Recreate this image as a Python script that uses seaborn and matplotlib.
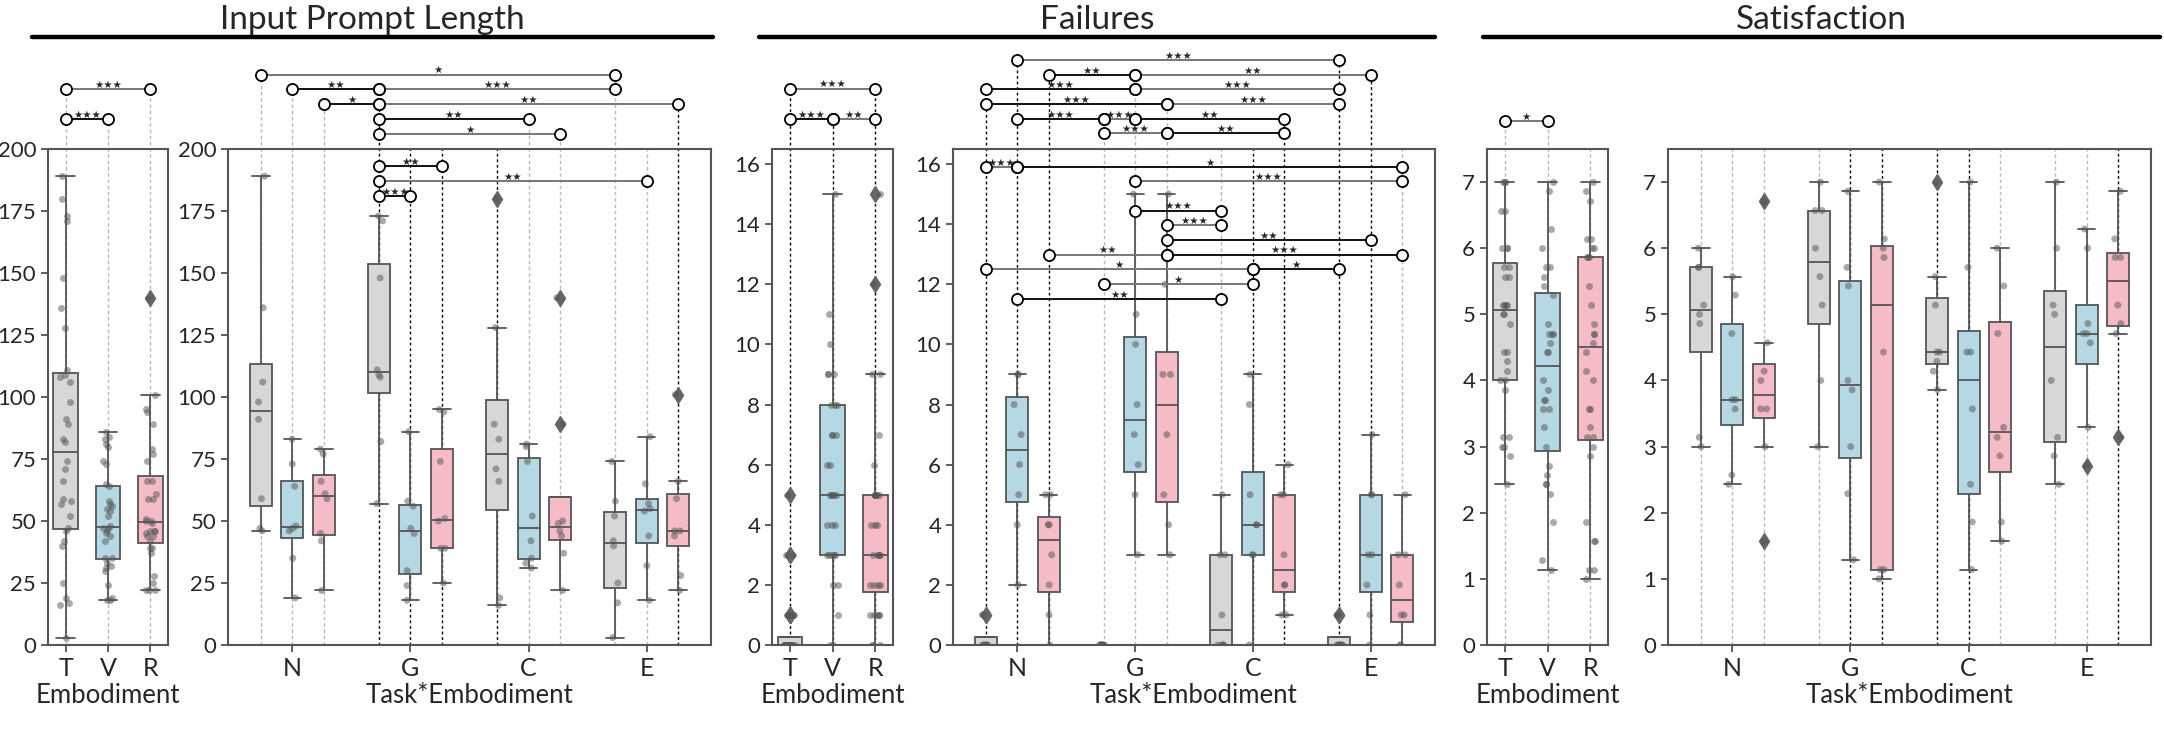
import numpy as np
import pandas as pd
import matplotlib
matplotlib.use("Agg")
import matplotlib.pyplot as plt
from matplotlib.lines import Line2D
import seaborn as sns

np.random.seed(3)

tasks = ["N", "G", "C", "E"]
embodiments = ["T", "V", "R"]

# ---- Input prompt length: lists for T, V, R within each task ----
input_N = [[46, 47, 59, 91, 98, 106, 136, 189], [19, 35, 46, 47, 48, 64, 73, 83], [22, 42, 45, 59, 61, 66, 77, 79]]
input_G = [[57, 82, 108, 109, 111, 148, 171, 173], [18, 24, 30, 45, 47, 56, 58, 86], [25, 39, 39, 50, 51, 74, 94, 95]]
input_C = [[16, 19, 66, 71, 83, 89, 128, 180], [31, 33, 35, 42, 52, 74, 80, 81], [22, 37, 44, 46, 49, 50, 89, 140]]
input_E = [[3, 17, 25, 40, 42, 52, 58, 74], [18, 32, 44, 54, 55, 57, 65, 84], [22, 28, 44, 46, 46, 59, 66, 101]]

# ---- Failures ----
fail_N = [[0, 0, 0, 0, 0, 0, 1, 1], [2, 4, 5, 6, 7, 8, 9, 9], [0, 1, 2, 3, 4, 4, 5, 5]]
fail_G = [[0, 0, 0, 0, 0, 0, 0, 0], [3, 5, 6, 7, 8, 10, 11, 15], [3, 4, 5, 7, 9, 9, 12, 15]]
fail_C = [[0, 0, 0, 0, 1, 3, 3, 5], [0, 3, 3, 4, 4, 5, 8, 9], [1, 1, 2, 2, 3, 5, 5, 6]]
fail_E = [[0, 0, 0, 0, 0, 0, 1, 1], [0, 1, 2, 3, 3, 5, 5, 7], [0, 0, 1, 1, 2, 3, 3, 5]]

# ---- Satisfaction ----
sat_N = [[3.0, 3.14, 4.86, 5.0, 5.14, 5.71, 5.71, 6.0], [2.43, 2.57, 3.57, 3.71, 3.71, 4.71, 5.29, 5.57], [1.57, 3.0, 3.57, 3.57, 4.0, 4.14, 4.57, 6.71]]
sat_G = [[3.0, 4.0, 5.14, 5.57, 6.0, 6.57, 6.57, 7.0], [1.29, 2.29, 3.0, 3.86, 4.0, 5.43, 5.71, 6.86], [1.0, 1.14, 1.14, 4.43, 5.86, 6.0, 6.14, 7.0]]
sat_C = [[3.86, 4.14, 4.29, 4.43, 4.43, 5.14, 5.57, 7.0], [1.14, 1.86, 2.43, 3.57, 4.43, 4.43, 5.71, 7.0], [1.57, 1.86, 2.86, 3.14, 3.29, 4.71, 5.43, 6.0]]
sat_E = [[2.43, 2.86, 3.14, 4.0, 5.0, 5.14, 6.0, 7.0], [2.71, 3.29, 4.57, 4.71, 4.71, 4.86, 6.0, 6.29], [3.14, 4.71, 4.86, 5.14, 5.86, 5.86, 6.14, 6.86]]

# ---- significance brackets: (from, to, height, label) ----
input_emb_sig = [("T", "R", 224, "***"), ("T", "V", 212, "***")]
input_task_sig = [("N-T", "E-T", 230, "*"), ("N-V", "G-T", 224, "**"), ("G-T", "E-T", 224, "***"),
                  ("N-R", "G-T", 218, "*"), ("G-T", "E-R", 218, "**"), ("G-T", "C-V", 212, "**"),
                  ("G-T", "C-R", 206, "*"), ("G-T", "G-R", 193, "**"), ("G-T", "E-V", 187, "**"),
                  ("G-T", "G-V", 181, "***")]
fail_emb_sig = [("T", "R", 18.5, "***"), ("T", "V", 17.5, "***"), ("V", "R", 17.5, "**")]
fail_task_sig = [("N-V", "E-T", 19.45, "***"),
                 ("N-R", "G-V", 18.96, "**"), ("G-V", "E-V", 18.96, "**"),
                 ("N-T", "G-V", 18.49, "***"), ("G-V", "E-T", 18.49, "***"),
                 ("N-T", "G-R", 18.0, "***"), ("G-R", "E-T", 18.0, "***"),
                 ("N-V", "G-T", 17.5, "***"), ("G-T", "G-V", 17.5, "***"), ("G-V", "C-R", 17.5, "**"),
                 ("G-T", "G-R", 17.03, "***"), ("G-R", "C-R", 17.03, "**"),
                 ("N-T", "N-V", 15.9, "***"), ("N-V", "E-R", 15.9, "*"),
                 ("G-V", "E-R", 15.42, "***"),
                 ("G-V", "C-T", 14.45, "***"),
                 ("G-R", "C-T", 13.96, "***"),
                 ("G-R", "E-V", 13.47, "**"),
                 ("N-R", "G-R", 12.98, "**"), ("G-R", "E-R", 12.98, "***"),
                 ("N-T", "C-V", 12.5, "*"), ("C-V", "E-T", 12.5, "*"),
                 ("G-T", "C-V", 12.0, "*"),
                 ("N-V", "C-T", 11.5, "**")]
sat_emb_sig = [("T", "V", 7.92, "*")]
sat_task_sig = []

# positions drawn with a dark guide line
input_emb_dark = []
input_task_dark = ["G-T", "G-V", "G-R", "C-T", "E-R"]
fail_emb_dark = ["T", "V", "R"]
fail_task_dark = ["N-T", "N-V", "N-R", "C-V", "C-R", "E-T", "E-V"]
sat_emb_dark = []
sat_task_dark = ["G-V", "G-R", "C-T", "C-V", "E-R"]

rows = []
for metric, per_task in [("input", dict(zip(tasks, [input_N, input_G, input_C, input_E]))),
                         ("fail", dict(zip(tasks, [fail_N, fail_G, fail_C, fail_E]))),
                         ("sat", dict(zip(tasks, [sat_N, sat_G, sat_C, sat_E])))]:
    for t, lists in per_task.items():
        for e, vals in zip(embodiments, lists):
            for v in vals:
                rows.append((metric, t, e, v))
df = pd.DataFrame(rows, columns=["metric", "task", "emb", "value"])

sns.set_theme(style="ticks")
plt.rcParams["font.family"] = ["Lato", "DejaVu Sans"]

W, H = 2164, 730
fig = plt.figure(figsize=(W / 100, H / 100), dpi=100)
AX_TOP, AX_BOT = 149, 645


def add_ax(x0, x1):
    return fig.add_axes([x0 / W, 1 - AX_BOT / H, (x1 - x0) / W, (AX_BOT - AX_TOP) / H])


box_colors = {"T": "#d6d7d9", "V": "#b4d8e4", "R": "#f5bcc7"}
HUE_STEP = 0.8 / 3


def xpos(key):
    if "-" in key:
        t, e = key.split("-")
        return tasks.index(t) + (embodiments.index(e) - 1) * HUE_STEP
    return embodiments.index(key)


def widen_caps(ax, box_w):
    for ln in ax.lines:
        xd = np.asarray(ln.get_xdata(), dtype=float)
        yd = np.asarray(ln.get_ydata(), dtype=float)
        if len(xd) == 2 and yd[0] == yd[1]:
            span = abs(xd[1] - xd[0])
            if 0 < span < 0.7 * box_w:
                c = xd.mean()
                half = 0.39 * box_w
                ln.set_xdata([c - half, c + half])


def draw_panel(ax, sub, kind, ylim, yticks, brackets, dark_keys, xlabel):
    flier = dict(marker="d", markerfacecolor="#666666", markeredgecolor="#666666")
    if kind == "emb":
        sns.boxplot(data=sub, x="emb", y="value", hue="emb", order=embodiments, hue_order=embodiments,
                    palette=box_colors, saturation=1, width=0.57, linewidth=1.3, linecolor="#555555",
                    fliersize=8, flierprops=flier, legend=False, ax=ax)
        widen_caps(ax, 0.57)
        sns.stripplot(data=sub, x="emb", y="value", order=embodiments, color="#555555", alpha=0.5,
                      size=5, jitter=0.13, ax=ax, zorder=3)
        keys = embodiments
    else:
        sns.boxplot(data=sub, x="task", y="value", hue="emb", order=tasks, hue_order=embodiments,
                    palette=box_colors, saturation=1, width=0.8, gap=0.3, linewidth=1.3,
                    linecolor="#555555", fliersize=8, flierprops=flier, legend=False, ax=ax)
        widen_caps(ax, HUE_STEP * 0.7)
        sns.stripplot(data=sub, x="task", y="value", hue="emb", order=tasks, hue_order=embodiments,
                      dodge=True, palette=["#555555"] * 3, alpha=0.5, size=5, jitter=0.1,
                      legend=False, ax=ax, zorder=3)
        keys = [f"{t}-{e}" for t in tasks for e in embodiments]

    ax.set_ylim(*ylim)
    ax.set_yticks(yticks)
    top = ylim[1]
    for k in keys:
        x = xpos(k)
        ends = [b[2] for b in brackets if k in (b[0], b[1])]
        y1 = max([top] + ends)
        if k in dark_keys:
            ax.plot([x, x], [0, y1], color="black", lw=1.0, ls=(0, (2, 2)), clip_on=False, zorder=0.5)
        else:
            ax.plot([x, x], [0, y1], color="#b8b8b8", lw=1.0, ls=(0, (2.5, 2)), clip_on=False, zorder=0.5)
    for i, (a, b, y, lab) in enumerate(brackets):
        xa, xb = xpos(a), xpos(b)
        col = "#777777" if i % 2 == 0 else "#111111"
        ax.plot([xa, xb], [y, y], color=col, lw=1.4, clip_on=False, zorder=4)
        ax.plot([xa, xb], [y, y], ls="none", marker="o", ms=8, mfc="white", mec="black", mew=1.3,
                clip_on=False, zorder=5)
        ax.annotate(lab.replace("*", "\u2605"), ((xa + xb) / 2, y), xytext=(0, 3.2),
                    textcoords="offset points", ha="center", va="center", fontsize=7.5,
                    family="DejaVu Sans", annotation_clip=False, zorder=6)

    ax.set_xlabel(xlabel, fontsize=18.5, labelpad=2)
    ax.set_ylabel("")
    ax.tick_params(axis="y", labelsize=16, length=5, width=1.2, color="#444444")
    ax.tick_params(axis="x", labelsize=18, length=5, width=1.2, color="#444444")
    for s in ax.spines.values():
        s.set_visible(True)
        s.set_color("#555555")
        s.set_linewidth(1.5)


panels = [
    ((48, 168), "input", "emb", (0, 200), np.arange(0, 201, 25), input_emb_sig, input_emb_dark),
    ((228, 711), "input", "task", (0, 200), np.arange(0, 201, 25), input_task_sig, input_task_dark),
    ((772, 893), "fail", "emb", (0, 16.5), np.arange(0, 17, 2), fail_emb_sig, fail_emb_dark),
    ((953, 1435), "fail", "task", (0, 16.5), np.arange(0, 17, 2), fail_task_sig, fail_task_dark),
    ((1487, 1608), "sat", "emb", (0, 7.5), np.arange(0, 8, 1), sat_emb_sig, sat_emb_dark),
    ((1668, 2151), "sat", "task", (0, 7.5), np.arange(0, 8, 1), sat_task_sig, sat_task_dark),
]
for (x0, x1), metric, kind, ylim, yt, sig, dark in panels:
    ax = add_ax(x0, x1)
    sub = df[df["metric"] == metric]
    draw_panel(ax, sub, kind, ylim, yt, sig, dark, "Embodiment" if kind == "emb" else "Task*Embodiment")

for name, x0, x1 in [("Input Prompt Length", 32, 713), ("Failures", 759, 1435), ("Satisfaction", 1483, 2160)]:
    fig.text((x0 + x1) / 2 / W, 1 - 20 / H, name, ha="center", va="center", fontsize=24)
    fig.add_artist(Line2D([x0 / W, x1 / W], [1 - 37 / H] * 2, color="black", lw=3.2,
                          transform=fig.transFigure))

fig.savefig("out.png", dpi=100)
